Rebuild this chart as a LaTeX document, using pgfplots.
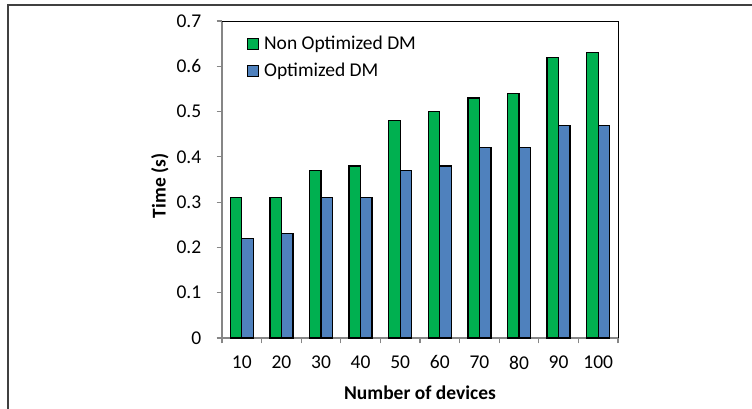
\documentclass[border=0pt]{standalone}
\usepackage{fontspec}
\setmainfont{Carlito}
\usepackage{pgfplots}
\pgfplotsset{compat=1.18}

\definecolor{exgreen}{RGB}{0,176,80}
\definecolor{exblue}{RGB}{79,129,189}
\definecolor{axgray}{RGB}{134,134,134}

\newcommand{\chartfont}{\fontsize{19.5}{23}\selectfont}

\begin{document}
\begin{tikzpicture}[x=1pt,y=1pt,font=\chartfont]
% page = 752 x 409 px, 1px = 1pt
\path[use as bounding box] (0,0) rectangle (752,409);
\draw[line width=1.3pt, color=black!75] (8,0) -- (8,404) -- (752,404);

\begin{axis}[
  at={(222pt,71pt)}, anchor=south west,
  scale only axis,
  width=396pt, height=317pt,
  axis x line*=bottom, axis y line*=left,
  axis line style={axgray, line width=1.5pt},
  ybar=0pt, bar width=11.5pt,
  xmin=0.5, xmax=10.5,
  ymin=0, ymax=0.7,
  ytick={0,0.1,...,0.7},
  yticklabel style={/pgf/number format/fixed, /pgf/number format/precision=1},
  /pgf/number format/assume math mode=true,
  xtick={1,...,10},
  xticklabels={10,20,30,40,50,60,70,80,90,100},
  major x tick style={draw=none},
  minor xtick={0.5,1.5,...,10.5},
  minor x tick style={draw=axgray, line width=1.2pt},
  ytick style={draw=axgray, line width=1.2pt},
  tick align=outside,
  major tick length=5.5pt, minor tick length=5.5pt,
  xticklabel style={inner sep=0pt, yshift=-12pt, font=\chartfont},
  yticklabel style={inner sep=0pt, xshift=-15pt, font=\chartfont},
  xlabel={\textbf{Number of devices}},
  ylabel={\textbf{Time (s)}},
  xlabel style={at={(axis description cs:0.5,-0.1735)}, anchor=center, font=\chartfont},
  ylabel style={at={(axis description cs:-0.157,0.48)}, anchor=center, font=\chartfont},
  legend style={at={(axis description cs:0.063,0.952)}, anchor=north west,
    draw=none, fill=none, inner sep=0pt, row sep=12pt,
    font=\chartfont,
    nodes={inner sep=0pt, font=\chartfont}},
  legend cell align=left,
  clip=false,
]
\addplot[fill=exgreen, draw=black, line width=1.3pt,
  legend image code/.code={\draw[fill=exgreen, draw=black, line width=1pt] (0pt,-5.5pt) rectangle (11pt,5.5pt);}]
  coordinates {(1,0.31) (2,0.31) (3,0.37) (4,0.38) (5,0.48) (6,0.50) (7,0.53) (8,0.54) (9,0.62) (10,0.63)};
\addplot[fill=exblue, draw=black, line width=1.3pt,
  legend image code/.code={\draw[fill=exblue, draw=black, line width=1pt] (0pt,-5.5pt) rectangle (11pt,5.5pt);}]
  coordinates {(1,0.22) (2,0.23) (3,0.31) (4,0.31) (5,0.37) (6,0.38) (7,0.42) (8,0.42) (9,0.47) (10,0.47)};
\legend{\hspace{5pt}Non Optimized DM, \hspace{5pt}Optimized DM}
\draw[black, line width=0.9pt] (rel axis cs:0,1) -- (rel axis cs:1,1) -- (rel axis cs:1,0);
\end{axis}
\end{tikzpicture}
\end{document}
